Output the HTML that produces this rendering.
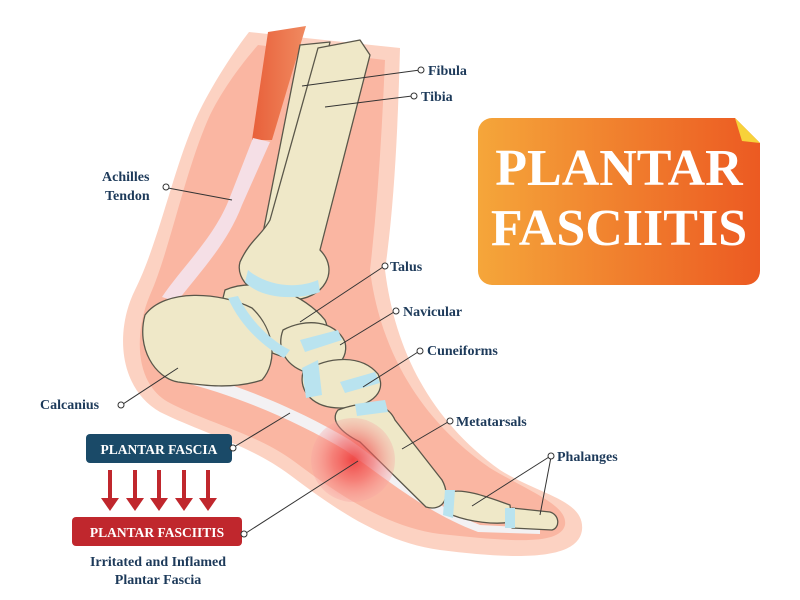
<!DOCTYPE html>
<html><head><meta charset="utf-8"><style>
html,body{margin:0;padding:0;background:#fff;}
svg{display:block}
text{font-family:"Liberation Serif",serif;font-weight:bold;}
</style></head><body>
<svg width="800" height="600" viewBox="0 0 800 600" xmlns="http://www.w3.org/2000/svg">
<defs>
<linearGradient id="og" x1="0" y1="0" x2="1" y2="0"><stop offset="0" stop-color="#f5a63a"/><stop offset="1" stop-color="#ec5a22"/></linearGradient>
<radialGradient id="rg"><stop offset="0" stop-color="#ee3b3b" stop-opacity="0.9"/><stop offset="0.5" stop-color="#f25c5c" stop-opacity="0.6"/><stop offset="1" stop-color="#f7a0a0" stop-opacity="0.3"/></radialGradient>
<linearGradient id="mg" x1="0" y1="0" x2="1" y2="0"><stop offset="0" stop-color="#e8603a"/><stop offset="1" stop-color="#f08a60"/></linearGradient>
</defs>
<path d="M249,32 L400,48 C398,120 395,200 385,270 C395,350 430,420 500,470 C540,495 585,500 582,530 C578,560 520,560 440,550 C380,542 330,505 290,475 C250,445 200,432 160,412 C118,388 115,330 135,290 C160,240 175,160 200,110 C215,80 235,50 249,32 Z" fill="#fcd2c2"/>
<path d="M258,45 L385,60 C382,130 378,200 370,270 C380,350 420,420 490,468 C530,492 568,505 565,525 C560,545 515,542 440,534 C385,527 335,492 295,462 C258,434 205,422 168,402 C133,382 135,330 150,295 C170,250 185,170 210,115 C225,85 245,60 258,45 Z" fill="#fab6a2"/>
<path d="M268,32 L306,26 L272,140 L252,140 Z" fill="url(#mg)"/>
<path d="M253,138 L270,142 L242,205 C227,245 197,275 177,302 L162,297 C182,267 215,237 230,197 Z" fill="#f5dfe6"/>
<path d="M170,368 C230,380 300,410 350,440 C390,468 430,505 480,525 L540,528 L540,534 L478,532 C425,512 385,478 345,450 C295,420 230,392 165,378 Z" fill="#f3f1f3"/>
<g fill="#efe8c8" stroke="#5a574a" stroke-width="1.3" stroke-linejoin="round">
<path d="M300,45 L330,42 L285,240 L262,238 Z"/>
<path d="M318,48 L360,40 L370,55 L320,250 C340,270 325,300 290,300 C255,300 235,280 240,262 C250,240 262,235 270,220 Z"/>
<path d="M225,290 C260,275 305,295 325,320 C335,342 312,362 285,357 C258,352 228,322 222,302 Z"/>
<path d="M145,315 C165,288 220,292 252,308 C275,330 278,362 262,380 C232,390 200,385 178,382 C155,378 136,348 145,315 Z"/>
<path d="M283,330 C305,318 335,320 345,342 C350,362 328,378 305,372 C283,364 277,346 283,330 Z"/>
<path d="M303,372 C330,355 362,355 378,374 C388,394 368,408 340,408 C314,408 298,392 303,372 Z"/>
<path d="M338,410 C365,400 387,402 395,420 L442,480 C452,498 442,512 426,507 L360,442 C340,432 330,420 338,410 Z"/>
<path d="M450,492 C465,488 490,498 510,505 L512,522 C495,525 470,522 452,515 C445,505 445,498 450,492 Z"/>
<path d="M512,508 L550,512 C560,515 560,528 552,530 L512,528 Z"/>
</g>
<g fill="#b9e3ef">
<path d="M248,270 C265,285 295,290 318,280 L320,292 C300,300 262,300 245,282 Z"/>
<path d="M228,298 L238,296 C250,320 270,340 290,350 L284,358 C262,346 240,325 228,298 Z"/>
<path d="M300,340 L338,330 L342,340 L305,352 Z"/>
<path d="M302,368 L318,360 L322,395 L306,398 Z"/>
<path d="M340,382 L375,372 L380,383 L345,393 Z"/>
<path d="M355,404 L385,400 L388,412 L357,416 Z"/>
<path d="M445,490 L455,490 L453,518 L443,515 Z"/>
<path d="M505,508 L515,508 L515,528 L505,528 Z"/>
</g>
<circle cx="353" cy="460" r="42" fill="url(#rg)"/>
<rect x="478" y="118" width="282" height="167" rx="14" fill="url(#og)"/>
<path d="M735,118 L760,143 L760,118 Z" fill="#fff"/>
<path d="M735,118 L760,143 L742,141 Z" fill="#f7d23a"/>
<text x="619" y="185" fill="#fff" font-size="52" text-anchor="middle">PLANTAR</text>
<text x="619" y="245" fill="#fff" font-size="52" text-anchor="middle">FASCIITIS</text>
<g stroke="#333" stroke-width="1" fill="#fff">
<line x1="302" y1="86" x2="420" y2="70"/><circle cx="421" cy="70" r="3"/>
<line x1="325" y1="107" x2="412" y2="96"/><circle cx="414" cy="96" r="3"/>
<line x1="232" y1="200" x2="168" y2="188"/><circle cx="166" cy="187" r="3"/>
<line x1="300" y1="322" x2="383" y2="267"/><circle cx="385" cy="266" r="3"/>
<line x1="340" y1="345" x2="394" y2="312"/><circle cx="396" cy="311" r="3"/>
<line x1="363" y1="387" x2="418" y2="352"/><circle cx="420" cy="351" r="3"/>
<line x1="402" y1="449" x2="448" y2="422"/><circle cx="450" cy="421" r="3"/>
<line x1="472" y1="506" x2="549" y2="457"/><line x1="540" y1="515" x2="551" y2="457"/><circle cx="551" cy="456" r="3"/>
<line x1="178" y1="368" x2="123" y2="404"/><circle cx="121" cy="405" r="3"/>
<line x1="290" y1="413" x2="234" y2="447"/>
<line x1="358" y1="461" x2="246" y2="533"/>
</g>
<g fill="#1d3a5a" font-size="14">
<text x="428" y="75">Fibula</text>
<text x="421" y="101">Tibia</text>
<text x="102" y="181">Achilles</text>
<text x="105" y="200">Tendon</text>
<text x="390" y="271">Talus</text>
<text x="403" y="316">Navicular</text>
<text x="427" y="355">Cuneiforms</text>
<text x="456" y="426">Metatarsals</text>
<text x="557" y="461">Phalanges</text>
<text x="40" y="409">Calcanius</text>
<text x="158" y="566" text-anchor="middle">Irritated and Inflamed</text>
<text x="158" y="584" text-anchor="middle">Plantar Fascia</text>
</g>
<rect x="86" y="434" width="146" height="29" rx="4" fill="#1a4a68"/>
<text x="159" y="454" fill="#fff" font-size="13.5" text-anchor="middle">PLANTAR FASCIA</text>
<circle cx="233" cy="448" r="3" fill="#fff" stroke="#333"/>
<rect x="72" y="517" width="170" height="29" rx="4" fill="#c0272d"/>
<text x="157" y="537" fill="#fff" font-size="13.5" text-anchor="middle">PLANTAR FASCIITIS</text>
<circle cx="244" cy="534" r="3" fill="#fff" stroke="#333"/>
<g fill="#c0272d">
<g id="ar"><rect x="108" y="470" width="4" height="30"/><path d="M101,498 L119,498 L110,511 Z"/></g>
<use href="#ar" x="25"/><use href="#ar" x="49"/><use href="#ar" x="74"/><use href="#ar" x="98"/>
</g>
</svg>
</body></html>
